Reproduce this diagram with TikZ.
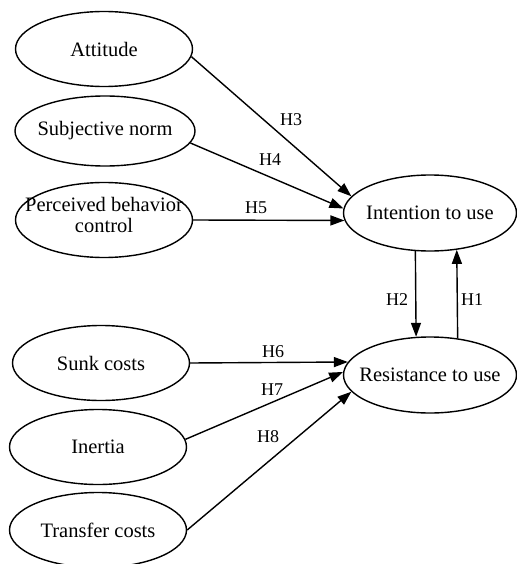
\documentclass[tikz,border=0pt]{standalone}
\usepackage{fontspec}
\setmainfont{Liberation Serif}
\usetikzlibrary{shapes.geometric,arrows.meta}
\newcommand{\ztext}[1]{\makebox[0pt]{#1}}
\begin{document}
\begin{tikzpicture}[x=1pt,y=-1pt,
  ell/.style={draw, ellipse, line width=1.4pt, minimum width=177pt, minimum height=75pt,
    inner sep=0pt, font=\fontsize{20.5}{18}\selectfont},
  rell/.style={ell, minimum width=173pt, minimum height=76pt},
  txt/.style={inner sep=0pt, font=\fontsize{20.5}{20.5}\selectfont, align=center},
  hyp/.style={font=\fontsize{18}{20}\selectfont, inner sep=0pt},
  arr/.style={line width=1.4pt, -{Triangle[length=14pt,width=10pt]}}]
\useasboundingbox (0,0) rectangle (516,564);

% left constructs
\node[ell] (att) at (104,49) {\ztext{Attitude}};
\node[ell, minimum width=180pt, minimum height=70pt] (sn) at (105,131) {\ztext{Subjective norm}};
\node[ell] (pbc) at (104,220) {};
\node[txt] (pbctext) at (104,215) {Perceived behavior\\control};
\node[ell] (sc) at (101,363) {\ztext{Sunk costs}};
\node[ell] (ine) at (98,447) {\ztext{Inertia}};
\node[ell] (tc) at (98,530) {\ztext{Transfer costs}};

% right constructs
\node[rell] (int) at (430,213) {\ztext{Intention to use}};
\node[rell] (res) at (430,375) {\ztext{Resistance to use}};

% connectors
\draw[arr] (att.-5) -- (int.168);
\draw[arr] (sn.-8) -- (int.177);
\draw[arr] (pbc.east) -- (int.185);
\draw[arr] (sc.east) -- (res.171);
\draw[arr] (ine.5) -- (res.178);
\draw[arr] (tc.east) -- (res.192);
\draw[arr] (int.249.5) -- (res.110.5);
\draw[arr] (res.53.2) -- (int.306.8);

% labels
\node[hyp] (h3) at (291,120) {H3};
\node[hyp] (h4) at (270,160) {H4};
\node[hyp] (h5) at (256,208) {H5};
\node[hyp] (h6) at (273,352) {H6};
\node[hyp] (h7) at (272,390) {H7};
\node[hyp] (h8) at (268,437) {H8};
\node[hyp] (h2) at (397,300) {H2};
\node[hyp] (h1) at (472,300) {H1};
\end{tikzpicture}
\end{document}
